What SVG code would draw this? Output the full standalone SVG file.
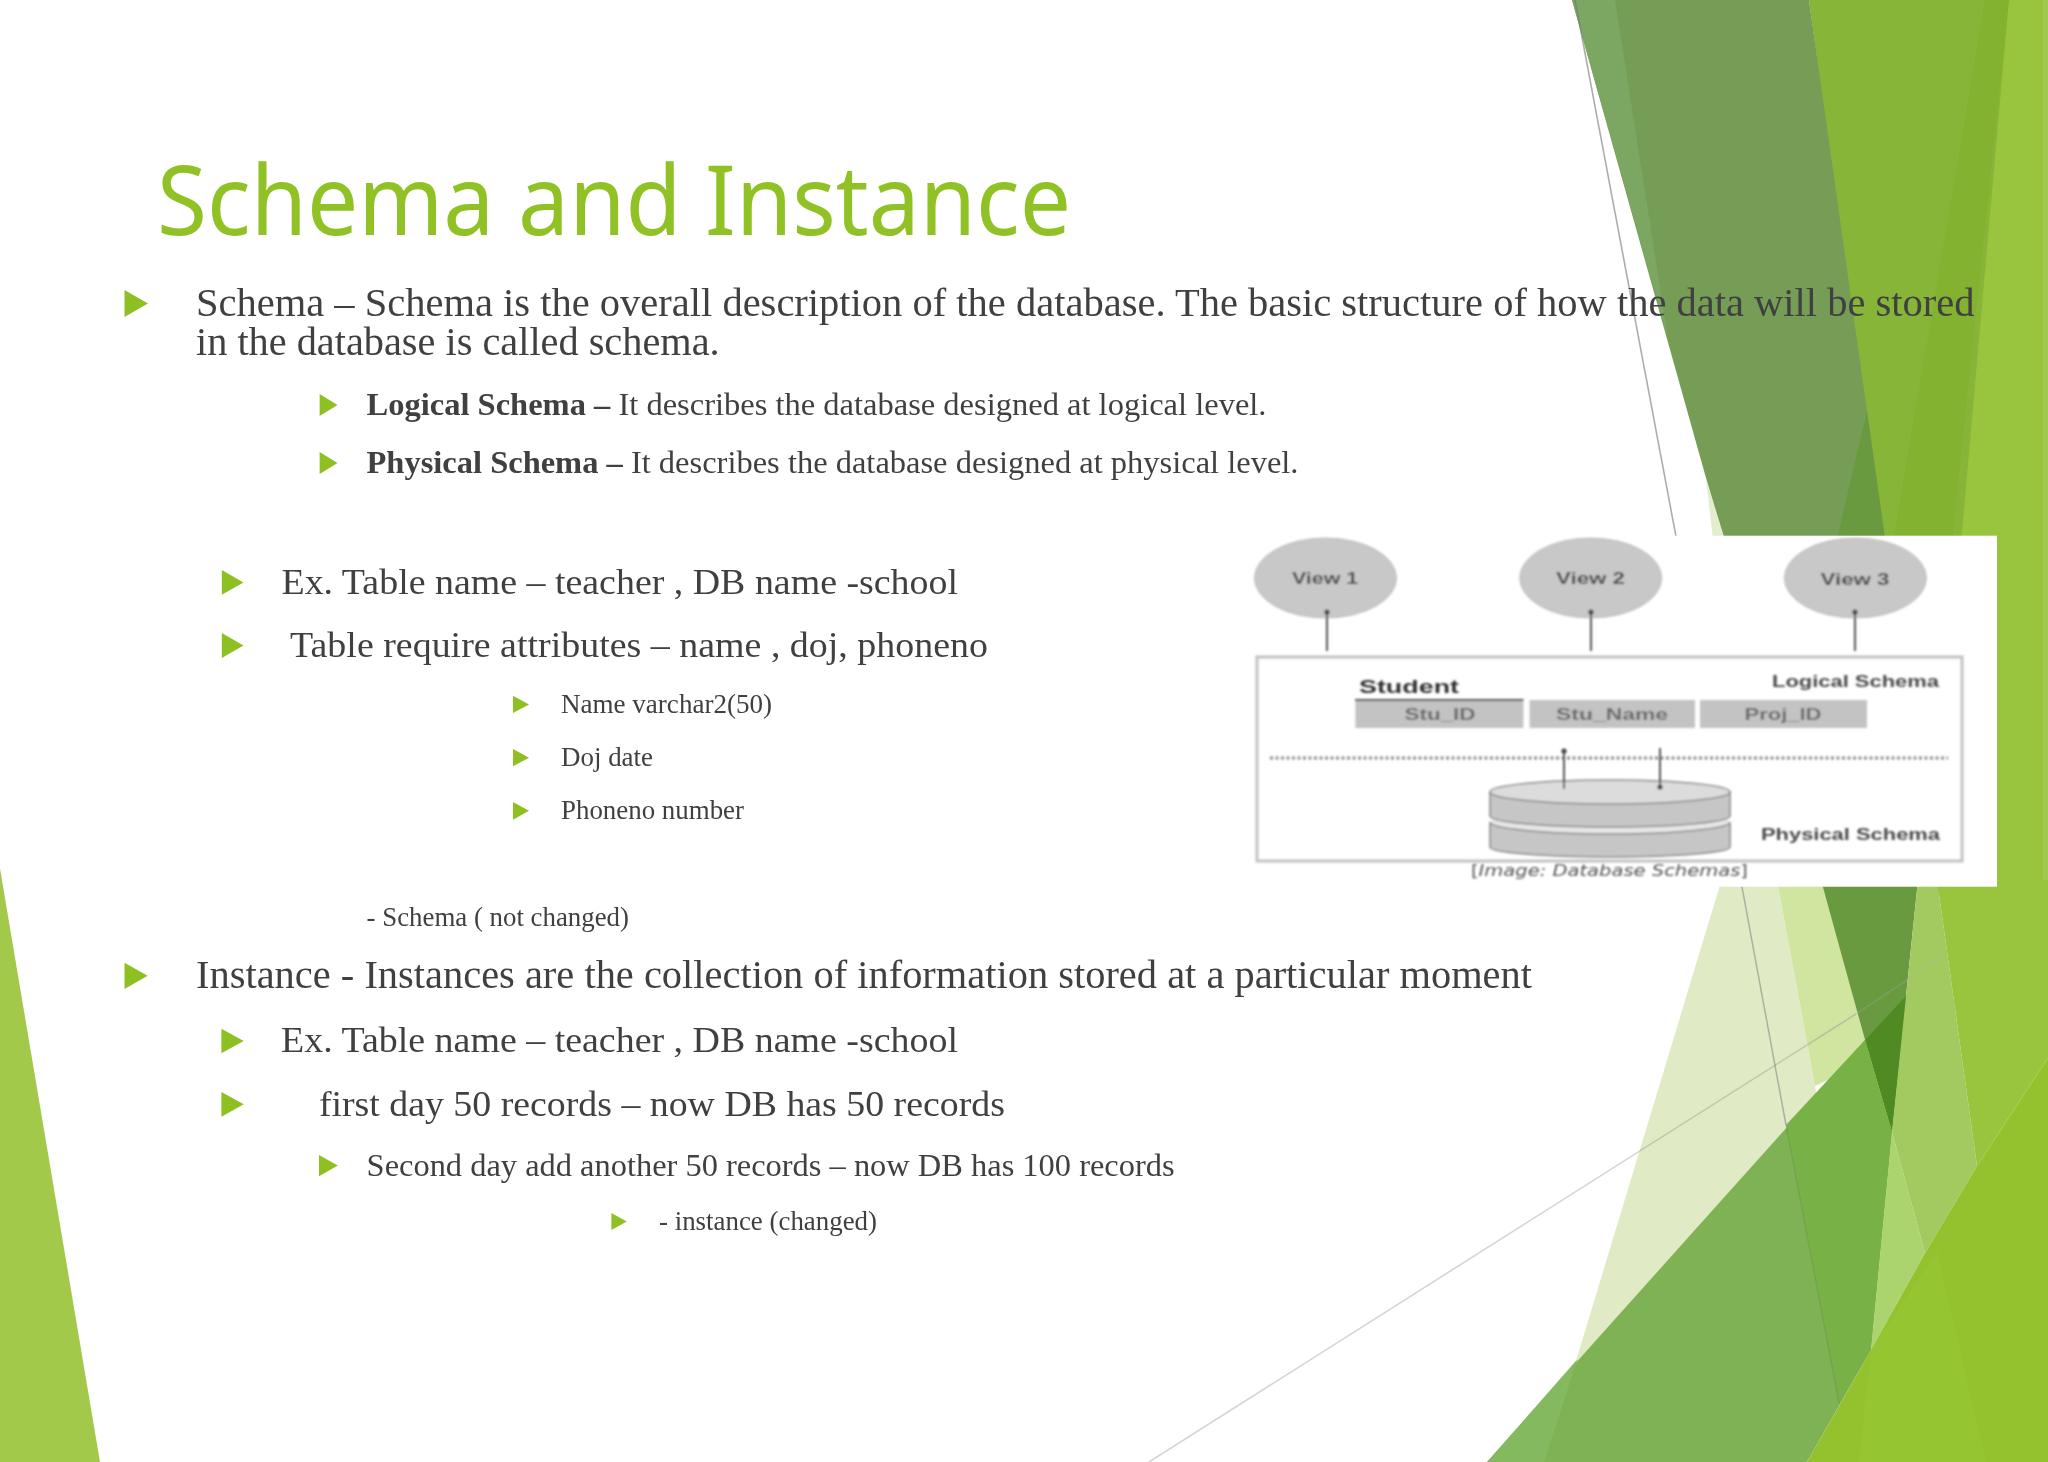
<svg xmlns="http://www.w3.org/2000/svg" width="2048" height="1462" viewBox="0 0 2048 1462">
<style>
text{font-family:"Liberation Serif","Times New Roman",serif;fill:#404040}
.t1{font-size:40.5px}.t2{font-size:36.5px}.t3{font-size:31.5px}.t4{font-size:27px}
.bul{fill:#8fc024}
.title{font-family:"Noto Sans","Open Sans",sans-serif;font-size:97px;fill:#90c226}
.d{font-family:"Liberation Sans",Arial,sans-serif;fill:#4a4a4a;font-weight:bold}
.dc{font-family:"Liberation Sans",Arial,sans-serif;fill:#6a6a6a;font-size:17px;font-weight:bold;text-anchor:middle}
.view{fill:#c8c8c8;stroke:#bdbdbd;stroke-width:1}
.cell{fill:#c3c3c3}
.conn{stroke:#555;stroke-width:2;fill:none}
.disk{fill:#c6c6c6;stroke:#8a8a8a;stroke-width:1.6}
</style>
<defs>
<marker id="dot" markerWidth="6" markerHeight="6" refX="3" refY="3" markerUnits="userSpaceOnUse"><circle cx="3" cy="3" r="2.6" fill="#444"/></marker>
<filter id="soft" x="-2%" y="-2%" width="104%" height="104%"><feGaussianBlur stdDeviation="0.8"/></filter>
<filter id="soft2" x="-2%" y="-2%" width="104%" height="104%"><feGaussianBlur stdDeviation="0.4"/></filter>
</defs>
<rect width="2048" height="1462" fill="#fff"/>
<g id="background-shapes">
<polygon points="0,868.6 100,1462 0,1462" fill="#a3c94a"/>
<polygon points="1809,0 2048,0 2048,560 1884,560" fill="#87b537"/>
<polygon points="1985,0 2009,0 1950,560 1890,560" fill="#83b230"/>
<polygon points="2009,0 2048,0 2048,895 1930,895" fill="#99c53e"/>
<rect x="2043" y="0" width="5" height="895" fill="#a1c94f"/>
<polygon points="1572,0 1809,0 1888,560 1729,560" fill="#769d55"/>
<polygon points="1572,0 1615,0 1668,339" fill="#7ba763"/>
<polygon points="1867,411 1832,560 1888,560" fill="#6a9a40"/>
<polygon points="1706,478 1725,540 1713,540" fill="#e3eecf"/>
<polygon points="1721.5,880 1777,880 1815,1086 1830,1180 1540,1480" fill="#e0ebc5"/>
<polygon points="1777,880 1823,880 1870,1060 1815,1086" fill="#cfe5a0"/>
<polygon points="1821,880 1918,880 1892,1132 1865,1040" fill="#6a9a40"/>
<polygon points="1865,1040 1907,995 1892,1132" fill="#4f8b22"/>
<polygon points="1865,1040 1892,1132 1871,1350 1807,1462 1487,1462" fill="#7fb254"/>
<polygon points="1487,1462 1544,1462 1577.6,1359" fill="#85b960"/>
<polygon points="1865,1040 1892,1132 1871,1350 1839,1403 1786,1125" fill="#78b247"/>
<polygon points="1892,1132 1925,1253 1871,1350" fill="#abd46e"/>
<polygon points="1918,880 1937,880 1977,1166 1925,1253 1892,1132" fill="#a2ca60"/>
<polygon points="1937,880 2048,880 2048,1058 1977,1166" fill="#99c53e"/>
<polygon points="1807,1462 1871,1350 1925,1253 1977,1166 2048,1058 2048,1462" fill="#93c22e"/>
<polygon points="1859,1462 1871,1350 1937,1251 1986,1462" fill="#95c530"/>
<line x1="1575" y1="0" x2="1742" y2="887" stroke="#777" stroke-width="1.6" stroke-opacity="0.6"/>
<line x1="1742" y1="887" x2="1786" y2="1125" stroke="#777" stroke-width="1.5" stroke-opacity="0.5"/>
<line x1="1786" y1="1125" x2="1839" y2="1403" stroke="#555" stroke-width="1.5" stroke-opacity="0.15"/>
<line x1="1149" y1="1462" x2="1856" y2="1014" stroke="#888" stroke-width="1.6" stroke-opacity="0.35"/>
<line x1="1856" y1="1014" x2="1940" y2="958" stroke="#aaa" stroke-width="1.6" stroke-opacity="0.25"/>
</g>
<g id="schema-image">
<rect x="1234" y="535.7" width="763" height="351" fill="#fff"/>
<g filter="url(#soft)">
<g id="view-1"><ellipse class="view" cx="1325.5" cy="578" rx="71" ry="40"/><text class="d" x="1292" y="584" font-size="16" textLength="66" lengthAdjust="spacingAndGlyphs">View 1</text></g>
<g id="view-2"><ellipse class="view" cx="1590.7" cy="578" rx="71" ry="40"/><text class="d" x="1556" y="584" font-size="16" textLength="69" lengthAdjust="spacingAndGlyphs">View 2</text></g>
<g id="view-3"><ellipse class="view" cx="1855.4" cy="578" rx="71" ry="40"/><text class="d" x="1820.5" y="585" font-size="16" textLength="69" lengthAdjust="spacingAndGlyphs">View 3</text></g>
<g id="logical-schema">
<rect x="1257" y="657" width="705" height="204" fill="none" stroke="#c2c2c2" stroke-width="3"/>
<text class="d" x="1359" y="693" font-size="19" textLength="100" lengthAdjust="spacingAndGlyphs" style="fill:#333">Student</text>
<text class="d" x="1772" y="687" font-size="16" textLength="167" lengthAdjust="spacingAndGlyphs">Logical Schema</text>
<rect class="cell" x="1355.4" y="700" width="168" height="28"/>
<rect class="cell" x="1529.5" y="700" width="165.5" height="28"/>
<rect class="cell" x="1700" y="700" width="167" height="28"/>
<line x1="1355" y1="700" x2="1523.5" y2="700" stroke="#555" stroke-width="2"/>
<text class="dc" x="1440" y="719.5" textLength="71" lengthAdjust="spacingAndGlyphs">Stu_ID</text>
<text class="dc" x="1612" y="719.5" textLength="112" lengthAdjust="spacingAndGlyphs">Stu_Name</text>
<text class="dc" x="1783" y="719.5" textLength="77" lengthAdjust="spacingAndGlyphs">Proj_ID</text>
<line x1="1270" y1="758" x2="1948" y2="758" stroke="#8a8a8a" stroke-width="3" stroke-dasharray="3 2.5"/>
</g>
<g id="physical-schema">
<path d="M1490,820 H1730 V835 H1490 Z" fill="#e6e6e6"/>
<path class="disk" d="M1490,822 A120,12 0 0 0 1730,822 V847 A120,10 0 0 1 1490,847 Z"/>
<path class="disk" d="M1490,792 V816 A120,11 0 0 0 1730,816 V792 Z"/>
<ellipse cx="1610" cy="792" rx="120" ry="12" fill="#dcdcdc" stroke="#8a8a8a" stroke-width="1.6"/>
<text class="d" x="1761" y="840" font-size="16" textLength="179" lengthAdjust="spacingAndGlyphs">Physical Schema</text>
</g>
<g id="connectors">
<line class="conn" x1="1327" y1="651" x2="1327" y2="612" marker-end="url(#dot)"/>
<line class="conn" x1="1591" y1="651" x2="1591" y2="612" marker-end="url(#dot)"/>
<line class="conn" x1="1855" y1="651" x2="1855" y2="612" marker-end="url(#dot)"/>
<line class="conn" x1="1564" y1="789" x2="1564" y2="751" marker-end="url(#dot)"/>
<line class="conn" x1="1660" y1="748" x2="1660" y2="787" marker-end="url(#dot)"/>
</g>
<text x="1471" y="876" font-size="15" textLength="277" lengthAdjust="spacingAndGlyphs" style="font-family:'DejaVu Sans',sans-serif;fill:#555">[<tspan font-style="italic">Image: Database Schemas</tspan>]</text>
</g>
</g>
<g id="title" filter="url(#soft2)"><text class="title" x="157" y="235" textLength="914" lengthAdjust="spacingAndGlyphs">Schema and Instance</text></g>
<g id="schema-text" filter="url(#soft2)">
<polygon class="bul" points="124.5,290 148,303.5 124.5,317"/>
<text class="t1" x="196" y="316" textLength="1778.6" lengthAdjust="spacingAndGlyphs">Schema – Schema is the overall description of the database. The basic structure of how the data will be stored</text>
<text class="t1" x="196" y="355" textLength="523.6" lengthAdjust="spacingAndGlyphs">in the database is called schema.</text>
<polygon class="bul" points="319.6,394 337.5,405 319.6,416"/>
<text class="t3" x="366.5" y="414.5" textLength="900" lengthAdjust="spacingAndGlyphs"><tspan font-weight="bold">Logical Schema – </tspan>It describes the database designed at logical level.</text>
<polygon class="bul" points="319.6,452 337.5,463 319.6,474"/>
<text class="t3" x="366.5" y="472.5" textLength="932" lengthAdjust="spacingAndGlyphs"><tspan font-weight="bold">Physical Schema – </tspan>It describes the database designed at physical level.</text>
<polygon class="bul" points="221.8,570 243.5,582.4 221.8,594.7"/>
<text class="t2" x="281.5" y="593.5" textLength="676.5" lengthAdjust="spacingAndGlyphs">Ex. Table name – teacher , DB name -school</text>
<polygon class="bul" points="221.8,633 243.5,645.5 221.8,658"/>
<text class="t2" x="290" y="657" textLength="698" lengthAdjust="spacingAndGlyphs">Table require attributes – name , doj, phoneno</text>
<polygon class="bul" points="513,695.7 529,704.4 513,713"/>
<text class="t4" x="561" y="713" textLength="211" lengthAdjust="spacingAndGlyphs">Name varchar2(50)</text>
<polygon class="bul" points="513,749 529,757.7 513,766.3"/>
<text class="t4" x="561" y="766" textLength="92" lengthAdjust="spacingAndGlyphs">Doj date</text>
<polygon class="bul" points="513,802 529,810.8 513,819.7"/>
<text class="t4" x="561" y="819.3" textLength="183" lengthAdjust="spacingAndGlyphs">Phoneno number</text>
<text class="t4" x="366.6" y="925.5" textLength="262.4" lengthAdjust="spacingAndGlyphs">- Schema ( not changed)</text>
</g>
<g id="instance-text" filter="url(#soft2)">
<polygon class="bul" points="124.5,962.7 147.7,975.8 124.5,989"/>
<text class="t1" x="196" y="987.7" textLength="1336" lengthAdjust="spacingAndGlyphs">Instance - Instances are the collection of information stored at a particular moment</text>
<polygon class="bul" points="221.4,1028.7 243.8,1041 221.4,1053.3"/>
<text class="t2" x="281" y="1052" textLength="677" lengthAdjust="spacingAndGlyphs">Ex. Table name – teacher , DB name -school</text>
<polygon class="bul" points="221.4,1092 243.8,1104.3 221.4,1116.7"/>
<text class="t2" x="318.9" y="1115.5" textLength="686" lengthAdjust="spacingAndGlyphs">first day 50 records – now DB has 50 records</text>
<polygon class="bul" points="319,1155 337.8,1165.6 319,1176.3"/>
<text class="t3" x="366.6" y="1175.5" textLength="808" lengthAdjust="spacingAndGlyphs">Second day add another 50 records – now DB has 100 records</text>
<polygon class="bul" points="611.4,1213 626.8,1221.5 611.4,1230"/>
<text class="t4" x="659" y="1229.5" textLength="218" lengthAdjust="spacingAndGlyphs">- instance (changed)</text>
</g>
</svg>
